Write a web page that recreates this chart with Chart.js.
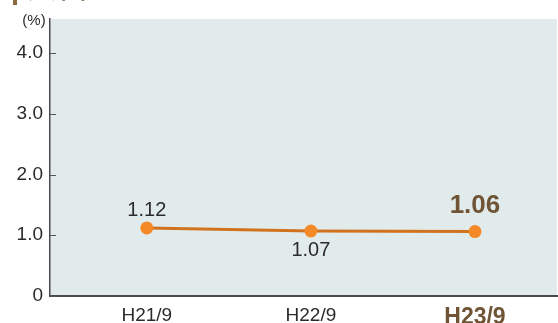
<!DOCTYPE html>
<html>
<head>
<meta charset="utf-8">
<script src="https://cdn.jsdelivr.net/npm/chart.js@4/dist/chart.umd.min.js"></script>
<style>
  html, body { margin: 0; padding: 0; background: #ffffff; }
  #wrap { width: 558px; height: 323px; position: relative; }
</style>
</head>
<body>
<div id="wrap"><canvas id="c" width="558" height="323"></canvas></div>
<script>
// Period labels along the x axis
const periods = ['H21/9', 'H22/9', 'H23/9'];
// Ratio (%) for each period
const ratios = [1.12, 1.07, 1.06];
// Y axis tick values and labels
const yTickValues = [0, 1, 2, 3, 4];
const yTickLabels = ['0', '1.0', '2.0', '3.0', '4.0'];

const FONT = '"Liberation Sans", Arial, Helvetica, sans-serif';
const BROWN = '#6f5436';
const TEXT = '#2b2b2b';

// Light panel behind the plot area, unit label and inward y ticks
const panelPlugin = {
  id: 'panel',
  beforeDraw(chart) {
    const { ctx, chartArea: a } = chart;
    ctx.save();
    ctx.fillStyle = '#e2ebec';
    ctx.fillRect(a.left, a.top, a.right - a.left, a.bottom - a.top);
    ctx.restore();
  },
  afterDraw(chart) {
    const { ctx, chartArea: a } = chart;
    const y = chart.scales.y;
    ctx.save();
    // inward tick marks
    ctx.strokeStyle = '#555555';
    ctx.lineWidth = 1;
    yTickValues.forEach(v => {
      const py = Math.round(y.getPixelForValue(v)) + 0.5;
      ctx.beginPath();
      ctx.moveTo(a.left, py);
      ctx.lineTo(a.left + 6, py);
      ctx.stroke();
    });
    // unit
    ctx.fillStyle = TEXT;
    ctx.font = '15px ' + FONT;
    ctx.textAlign = 'center';
    ctx.textBaseline = 'middle';
    ctx.fillText('(%)', 34, 21);
    // heading marker above the chart
    ctx.fillStyle = '#8a6a3f';
    ctx.fillRect(13, -14, 4, 19);
    ctx.fillStyle = BROWN;
    ctx.font = 'bold 22px "Noto Sans CJK JP", sans-serif';
    ctx.textAlign = 'left';
    ctx.textBaseline = 'alphabetic';
    ctx.fillText('延滞率', 28, -2);
    ctx.restore();
  }
};

// Value labels beside each point
const valueLabelPlugin = {
  id: 'valueLabels',
  afterDatasetsDraw(chart) {
    const { ctx } = chart;
    const meta = chart.getDatasetMeta(0);
    const styles = [
      { dy: -17, font: '20px ' + FONT, color: TEXT },
      { dy: 19, font: '20px ' + FONT, color: TEXT },
      { dy: -26, font: 'bold 26px ' + FONT, color: BROWN }
    ];
    ctx.save();
    ctx.textAlign = 'center';
    ctx.textBaseline = 'middle';
    meta.data.forEach((pt, i) => {
      const s = styles[i];
      ctx.font = s.font;
      ctx.fillStyle = s.color;
      ctx.fillText(ratios[i].toFixed(2), pt.x, pt.y + s.dy);
    });
    ctx.restore();
  }
};

new Chart(document.getElementById('c'), {
  type: 'line',
  data: {
    datasets: [{
      data: ratios.map((v, i) => ({ x: i, y: v })),
      borderColor: '#d1721f',
      borderWidth: 3,
      pointBackgroundColor: '#f48a27',
      pointBorderColor: '#f48a27',
      pointRadius: 6.5,
      pointBorderWidth: 0,
      tension: 0,
      clip: false
    }]
  },
  options: {
    responsive: false,
    animation: false,
    devicePixelRatio: 1,
    layout: { autoPadding: false, padding: { top: 19, right: 1, left: 0, bottom: 0 } },
    plugins: { legend: { display: false }, tooltip: { enabled: false } },
    scales: {
      x: {
        type: 'linear',
        min: -0.59,
        max: 2.5,
        afterBuildTicks(scale) { scale.ticks = periods.map((_, i) => ({ value: i })); },
        afterFit(scale) {
          scale.height = 27;
          scale.paddingLeft = 0;
          scale.paddingRight = 0;
        },
        grid: { display: false, drawTicks: false },
        border: { display: true, color: '#4a4a4a', width: 2 },
        ticks: {
          padding: 8,
          maxRotation: 0,
          autoSkip: false,
          callback: (v) => periods[v],
          font: (ctx) => ctx.index === 2
            ? { family: FONT, size: 23, weight: 'bold' }
            : { family: FONT, size: 19 },
          color: (ctx) => ctx.index === 2 ? BROWN : TEXT
        }
      },
      y: {
        min: 0,
        max: 4.56,
        afterBuildTicks(scale) { scale.ticks = yTickValues.map(v => ({ value: v })); },
        afterFit(scale) {
          scale.width = 50;
          scale.paddingTop = 0;
          scale.paddingBottom = 0;
        },
        grid: { display: false, drawTicks: false },
        border: { display: true, color: '#4a4a4a', width: 1.5 },
        ticks: {
          padding: 7,
          autoSkip: false,
          callback: (v) => yTickLabels[yTickValues.indexOf(v)],
          font: { family: FONT, size: 19 },
          color: TEXT
        }
      }
    }
  },
  plugins: [panelPlugin, valueLabelPlugin]
});
</script>
</body>
</html>
